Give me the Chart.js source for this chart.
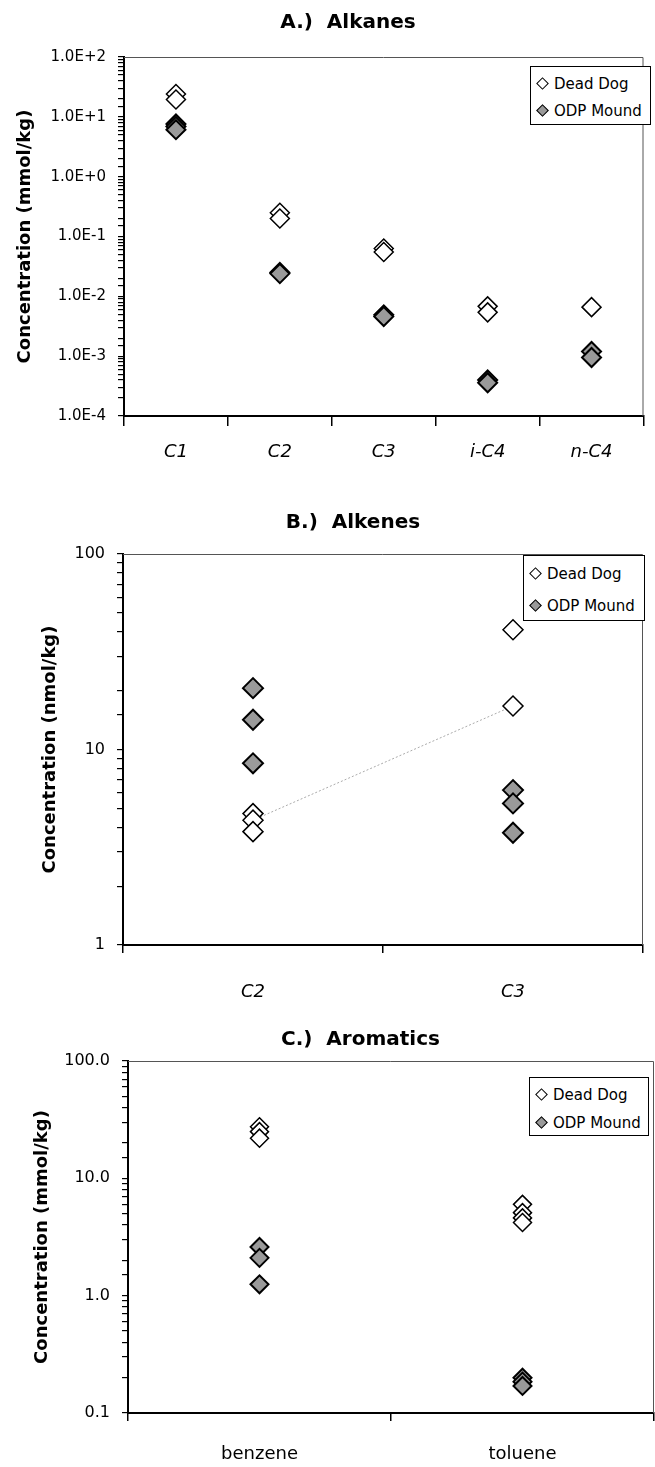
<!DOCTYPE html>
<html>
<head>
<meta charset="utf-8">
<script src="https://cdn.jsdelivr.net/npm/chart.js@4.4.1/dist/chart.umd.min.js"></script>
<style>
html, body { margin: 0; padding: 0; background: #fff; overflow: hidden; width: 655px; height: 1467px; position: relative; }
.box { position: absolute; left: 0; }
.legend { position: absolute; border: 1px solid #000; background: #fff; font: 15px "DejaVu Sans", sans-serif; color: #000; }
.row { position: absolute; left: 0; white-space: nowrap; line-height: 18px; }
.sym { display: inline-block; width: 7px; height: 7px; border: 1px solid #000; transform: rotate(45deg); margin: 0 7px 0 7px; vertical-align: 1px; }
.dd { background: #fff; }
.odp { background: #999; }
</style>
</head>
<body>
<div class="box" style="top:0px;width:655px;height:475px"><canvas id="alkanes" width="655" height="475"></canvas></div>
<div class="box" style="top:490px;width:655px;height:520px"><canvas id="alkenes" width="655" height="520"></canvas></div>
<div class="box" style="top:1010px;width:665px;height:457px"><canvas id="aromatics" width="665" height="457"></canvas></div>

<div class="legend" style="left:530px;top:66px;width:119px;height:57px">
  <div class="row" style="top:8px"><span class="sym dd"></span>Dead Dog</div>
  <div class="row" style="top:35px"><span class="sym odp"></span>ODP Mound</div>
</div>
<div class="legend" style="left:523px;top:555px;width:120px;height:64px">
  <div class="row" style="top:9px"><span class="sym dd"></span>Dead Dog</div>
  <div class="row" style="top:41px"><span class="sym odp"></span>ODP Mound</div>
</div>
<div class="legend" style="left:529px;top:1077px;width:118px;height:57px">
  <div class="row" style="top:8px"><span class="sym dd"></span>Dead Dog</div>
  <div class="row" style="top:36px"><span class="sym odp"></span>ODP Mound</div>
</div>

<script>
// A.) Alkanes (mmol/kg)
const alkaneCats = ['C1', 'C2', 'C3', 'i-C4', 'n-C4']
const alkaneDeadDog = [[24, 19.5], [0.25, 0.20], [0.063, 0.055], [0.0068, 0.0054], [0.0066]]
const alkaneOdp = [[7.6, 6.9, 6.1], [0.025, 0.024], [0.0049, 0.0046], [0.00040, 0.00036], [0.0012, 0.00095]]

// B.) Alkenes (nmol/kg)
const alkeneCats = ['C2', 'C3']
const alkeneDeadDog = [[4.7, 4.35, 3.8], [41, 16.7]]
const alkeneOdp = [[20.6, 14.2, 8.5], [6.2, 5.3, 3.75]]
const alkeneLine = [4.35, 16.7]

// C.) Aromatics (mmol/kg)
const aromaticCats = ['benzene', 'toluene']
const aromaticDeadDog = [[27.5, 25, 22], [6.0, 5.1, 4.6, 4.2]]
const aromaticOdp = [[2.6, 2.1, 1.25], [0.2, 0.185, 0.17]]

const family = '"DejaVu Sans", sans-serif'

function toPoints(cats, groups) {
    let pts = []
    for (let i = 0; i < cats.length; i++) {
        for (let v of groups[i]) pts.push({x: cats[i], y: v})
    }
    return pts
}

function isDecade(v) {
    const l = Math.log10(v)
    return Math.abs(l - Math.round(l)) < 1e-6
}

const frame = {
    id: 'frame',
    beforeDatasetsDraw(chart) {
        const a = chart.chartArea, ctx = chart.ctx
        ctx.save()
        ctx.strokeStyle = '#555'
        ctx.lineWidth = 1
        ctx.beginPath()
        ctx.moveTo(a.left, a.top + 0.5)
        ctx.lineTo(a.right - 0.5, a.top + 0.5)
        ctx.lineTo(a.right - 0.5, a.bottom)
        ctx.stroke()
        ctx.restore()
    }
}

function markers(cats, dd, odp, r) {
    return [
        {label: 'Dead Dog', data: toPoints(cats, dd), showLine: false, pointStyle: 'rectRot',
         pointRadius: r, backgroundColor: '#fff', borderColor: '#000', pointBorderWidth: 1.5, order: 1},
        {label: 'ODP Mound', data: toPoints(cats, odp), showLine: false, pointStyle: 'rectRot',
         pointRadius: r, backgroundColor: '#9a9a9a', borderColor: '#000', pointBorderWidth: 2, order: 2}
    ]
}

function panel(id, o) {
    return new Chart(document.getElementById(id), {
        type: 'line',
        data: {labels: o.cats, datasets: o.datasets},
        options: {
            responsive: false,
            animation: false,
            devicePixelRatio: 1,
            layout: {padding: {left: o.padL, right: o.padR, top: 0, bottom: 0}},
            plugins: {
                legend: {display: false},
                tooltip: {enabled: false},
                title: {display: true, text: o.title, color: '#000',
                        font: {family: family, size: 20, weight: 'bold'},
                        padding: {top: o.tTop, bottom: o.tBot}}
            },
            scales: {
                x: {
                    type: 'category', offset: true,
                    grid: {offset: true, drawOnChartArea: false, drawTicks: true, tickLength: o.xTick, color: '#000', lineWidth: 1.5},
                    border: {color: '#000', width: 2},
                    ticks: {color: '#000', padding: o.xPad, maxRotation: 0,
                            font: {family: family, size: 18, style: o.xStyle}},
                    afterFit: s => { s.height = o.xH }
                },
                y: {
                    type: 'logarithmic', min: o.min, max: o.max,
                    grid: {drawOnChartArea: false, drawTicks: true, tickLength: 6, color: '#000', lineWidth: 1.2},
                    border: {color: '#000', width: 2},
                    ticks: {autoSkip: false, color: '#000', padding: 12,
                            font: {family: family, size: o.yFont},
                            callback: v => isDecade(v) ? o.fmt(v) : ''},
                    title: {display: true, text: o.yTitle, color: '#000',
                            font: {family: family, size: 18, weight: 'bold'},
                            padding: {top: o.yTitlePad, bottom: 0}},
                    afterFit: s => { s.width = o.yW }
                }
            }
        },
        plugins: [frame]
    })
}

panel('alkanes', {
    cats: alkaneCats,
    datasets: markers(alkaneCats, alkaneDeadDog, alkaneOdp, 9.5),
    title: 'A.)  Alkanes', tTop: 11, tBot: 22,
    padL: 44, padR: 3, yW: 80, yTitlePad: -29.8,
    xH: 59, xTick: 10, xPad: 16, xStyle: 'italic',
    min: 1e-4, max: 100, yFont: 15,
    fmt: v => v.toExponential(1).toUpperCase(),
    yTitle: 'Concentration (mmol/kg)'
})

let alkeneSets = markers(alkeneCats, alkeneDeadDog, alkeneOdp, 10)
alkeneSets.push({label: 'trend', data: alkeneLine, showLine: true, pointRadius: 0,
                 borderColor: '#aaa', borderWidth: 1, borderDash: [2, 2], order: 5})

panel('alkenes', {
    cats: alkeneCats,
    datasets: alkeneSets,
    title: 'B.)  Alkenes', tTop: 21, tBot: 19,
    padL: 61, padR: 10, yW: 62, yTitlePad: -21.8,
    xH: 65, xTick: 8, xPad: 29, xStyle: 'italic',
    min: 1, max: 100, yFont: 16,
    fmt: v => String(Math.round(v)),
    yTitle: 'Concentration (nmol/kg)'
})

panel('aromatics', {
    cats: aromaticCats,
    datasets: markers(aromaticCats, aromaticDeadDog, aromaticOdp, 9),
    title: 'C.)  Aromatics', tTop: 18, tBot: 9,
    padL: 60, padR: 4, yW: 68, yTitlePad: -28.8,
    xH: 54, xTick: 8, xPad: 23, xStyle: 'normal',
    min: 0.1, max: 100, yFont: 16,
    fmt: v => v.toFixed(1),
    yTitle: 'Concentration (mmol/kg)'
})
</script>
</body>
</html>
